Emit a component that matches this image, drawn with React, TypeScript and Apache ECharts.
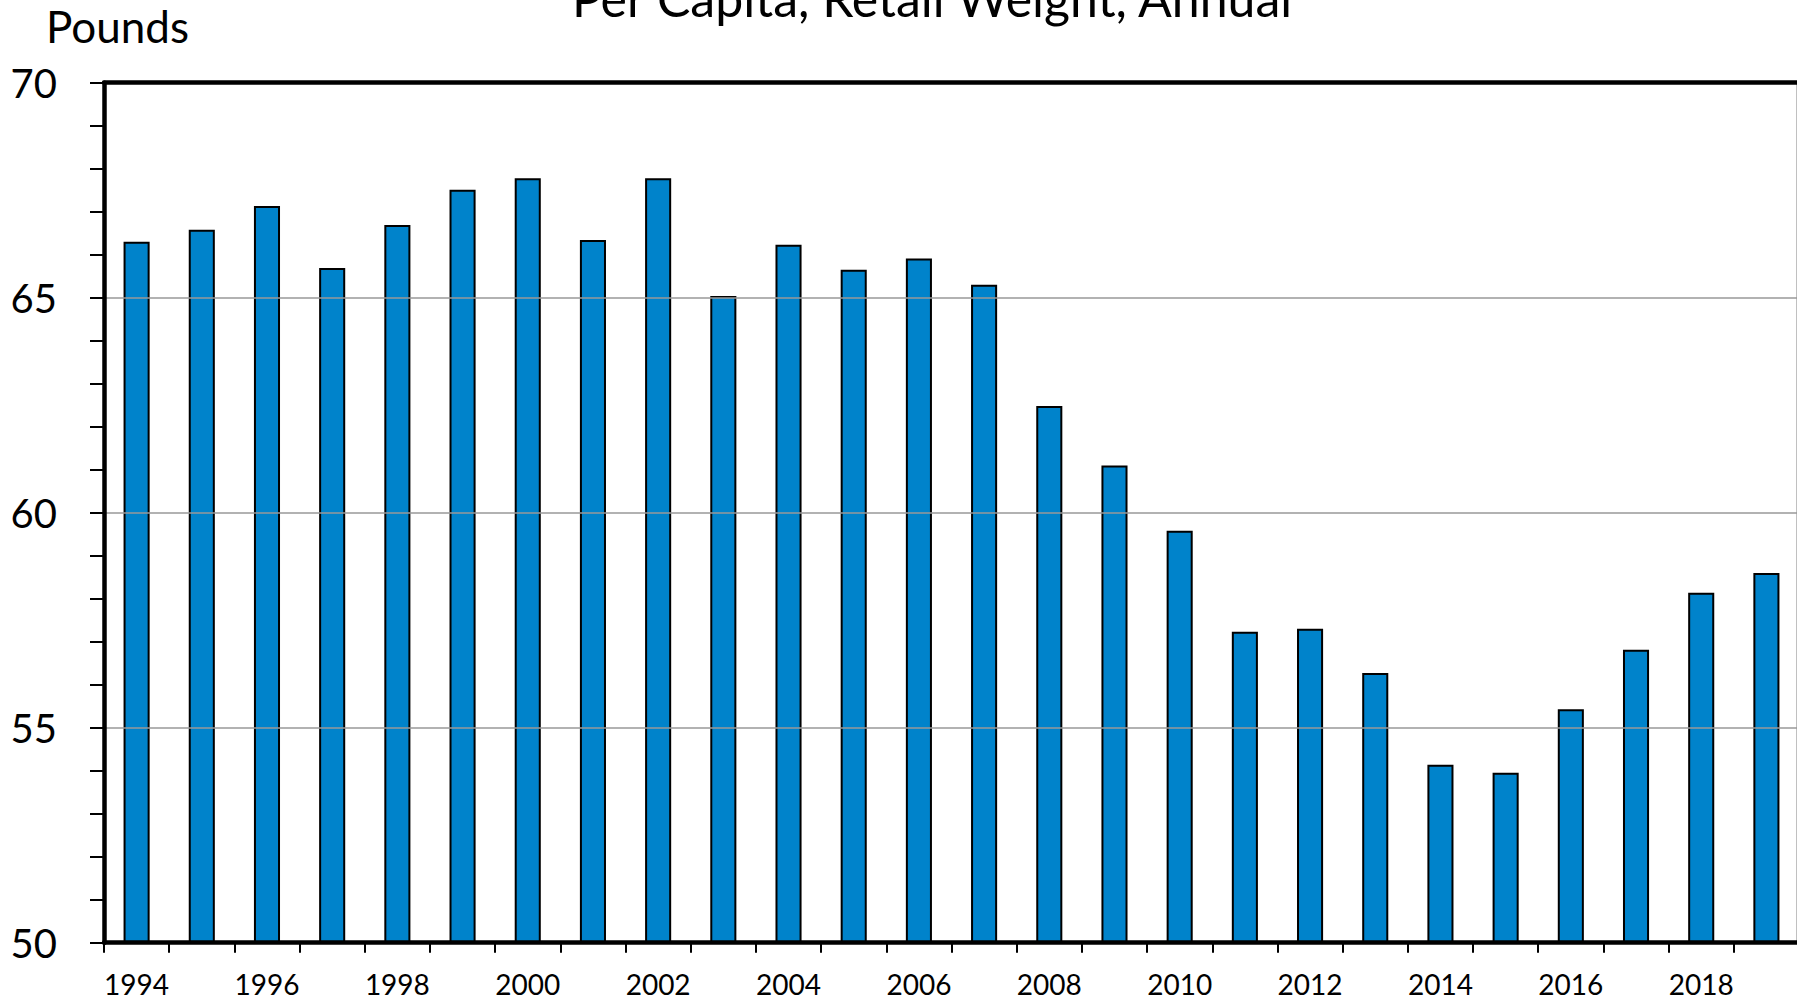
import React, { useEffect, useRef } from "react";
import * as echarts from "echarts";

const years = [
  "1994", "1995", "1996", "1997", "1998", "1999", "2000", "2001", "2002",
  "2003", "2004", "2005", "2006", "2007", "2008", "2009", "2010", "2011",
  "2012", "2013", "2014", "2015", "2016", "2017", "2018", "2019",
];

const pounds = [
  66.3, 66.58, 67.13, 65.69, 66.69, 67.51, 67.78, 66.34, 67.78,
  65.04, 66.23, 65.65, 65.91, 65.3, 62.48, 61.1, 59.58, 57.23,
  57.3, 56.27, 54.14, 53.95, 55.43, 56.81, 58.14, 58.6,
];

const titleText = "Per Capita, Retail Weight, Annual";
const unitText = "Pounds";
const yMin = 50;
const yMax = 70;
const yStep = 5;

const FONT = "Lato, 'Noto Sans', sans-serif";

export default function App() {
  const ref = useRef<HTMLDivElement>(null);

  useEffect(() => {
    if (!ref.current) return;
    const chart = echarts.init(ref.current, null, { renderer: "svg" });
    chart.setOption({
      animation: false,
      backgroundColor: "#ffffff",
      textStyle: { fontFamily: FONT },
      grid: {
        left: 104,
        top: 82.7,
        width: 1695,
        height: 860,
        containLabel: false,
        outerBoundsMode: "none",
      },
      graphic: [
        {
          type: "text",
          x: 932,
          y: -2.5,
          style: {
            text: titleText,
            font: `50px ${FONT}`,
            fill: "#000",
            textAlign: "center",
            textVerticalAlign: "middle",
          },
        },
        {
          type: "text",
          x: 46,
          y: 26,
          style: {
            text: unitText,
            font: `44px ${FONT}`,
            fill: "#000",
            textAlign: "left",
            textVerticalAlign: "middle",
          },
        },
        {
          type: "line",
          shape: { x1: 1796.5, y1: 82, x2: 1796.5, y2: 943 },
          style: { stroke: "#c0c0c0", lineWidth: 1 },
        },
      ],
      xAxis: [
        {
          type: "category",
          data: years,
          position: "bottom",
          boundaryGap: true,
          axisLine: { show: true, lineStyle: { color: "#000", width: 4.5 } },
          axisTick: {
            show: true,
            interval: 0,
            alignWithLabel: false,
            length: 10,
            lineStyle: { color: "#000", width: 2 },
          },
          axisLabel: {
            interval: 1,
            fontSize: 28,
            color: "#000",
            fontFamily: FONT,
            margin: 27,
          },
          splitLine: { show: false },
          z: 5,
        },
        {
          type: "category",
          data: years,
          position: "top",
          axisLine: { show: true, lineStyle: { color: "#000", width: 4.5 } },
          axisTick: { show: false },
          axisLabel: { show: false },
          splitLine: { show: false },
          z: 5,
        },
      ],
      yAxis: {
        type: "value",
        min: yMin,
        max: yMax,
        interval: yStep,
        axisLine: { show: true, lineStyle: { color: "#000", width: 4.5 } },
        axisTick: {
          show: true,
          length: 14,
          lineStyle: { color: "#000", width: 2 },
        },
        minorTick: {
          show: true,
          splitNumber: 5,
          length: 14,
          lineStyle: { color: "#000", width: 2 },
        },
        axisLabel: {
          fontSize: 40,
          color: "#000",
          fontFamily: FONT,
          margin: 47,
          padding: [9, 0, 0, 0],
        },
        splitLine: {
          show: true,
          lineStyle: { color: "#999999", width: 1.5 },
        },
        z: 5,
      },
      series: [
        {
          type: "bar",
          data: pounds,
          barWidth: "40%",
          itemStyle: {
            color: "#0083CB",
            borderColor: "#000",
            borderWidth: 2,
          },
        },
      ],
    });
    return () => chart.dispose();
  }, []);

  return (
    <div
      style={{
        position: "fixed",
        left: 0,
        top: 0,
        width: 1797,
        height: 1004,
        overflow: "hidden",
        background: "#fff",
      }}
    >
      <div ref={ref} style={{ width: 1800, height: 1004 }} />
    </div>
  );
}
